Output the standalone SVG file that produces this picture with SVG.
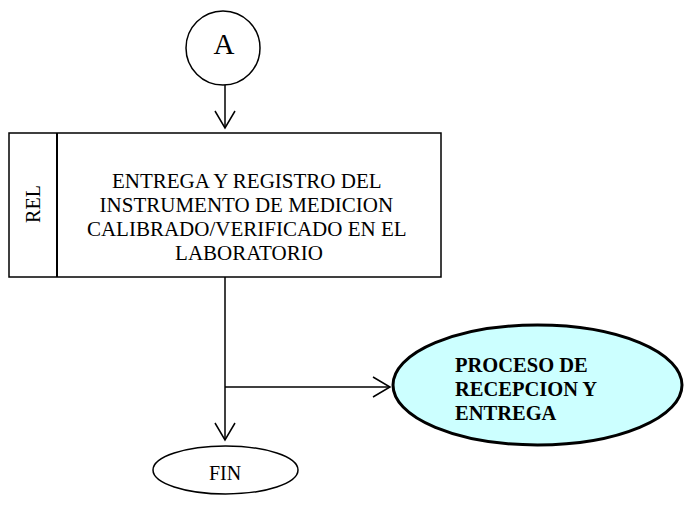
<svg xmlns="http://www.w3.org/2000/svg" width="684" height="506" viewBox="0 0 684 506">
<style>
.t{font-family:"Liberation Serif","Times New Roman",serif;fill:#000}
.n{fill:#fff;stroke:#000;stroke-width:1.5}
.c{fill:none;stroke:#000;stroke-width:1.5}
</style>
<defs>
<marker id="ar" markerUnits="userSpaceOnUse" markerWidth="40" markerHeight="40" viewBox="-20 -20 40 40" refX="0" refY="0" orient="auto">
<path d="M-17,-10 L0,0 L-17,10" fill="none" stroke="#000" stroke-width="1.5"/>
</marker>
</defs>
<g id="connectors">
<line class="c" x1="225" y1="85" x2="225" y2="128" marker-end="url(#ar)"/>
<line class="c" x1="225" y1="277" x2="225" y2="440" marker-end="url(#ar)"/>
<line class="c" x1="225" y1="387" x2="390" y2="387" marker-end="url(#ar)"/>
</g>
<g id="nodeA">
<circle class="n" cx="223" cy="48" r="37"/>
<text class="t" x="224" y="54" font-size="29" text-anchor="middle">A</text>
</g>
<g id="nodeREL">
<rect class="n" x="9" y="133" width="432" height="144" stroke-width="2"/>
<line x1="57" y1="133" x2="57" y2="277" stroke="#000" stroke-width="2"/>
<text class="t" font-size="20" text-anchor="middle" transform="translate(40,204) rotate(-90)">REL</text>
<text class="t" font-size="21" text-anchor="middle">
<tspan x="249" y="188">ENTREGA Y REGISTRO DEL</tspan>
<tspan x="249" y="212">INSTRUMENTO DE MEDICION</tspan>
<tspan x="249" y="236">CALIBRADO/VERIFICADO EN EL</tspan>
<tspan x="249" y="260">LABORATORIO</tspan>
</text>
</g>
<g id="nodeProceso">
<ellipse cx="537.5" cy="385" rx="144.5" ry="60" fill="#CCFFFF" stroke="#000" stroke-width="3"/>
<text class="t" font-size="20.5" font-weight="bold">
<tspan x="455" y="372">PROCESO DE</tspan>
<tspan x="455" y="396">RECEPCION Y</tspan>
<tspan x="455" y="420">ENTREGA</tspan>
</text>
</g>
<g id="nodeFIN">
<ellipse class="n" cx="225.5" cy="470" rx="72.5" ry="24"/>
<text class="t" x="225" y="480" font-size="20" text-anchor="middle">FIN</text>
</g>
</svg>
